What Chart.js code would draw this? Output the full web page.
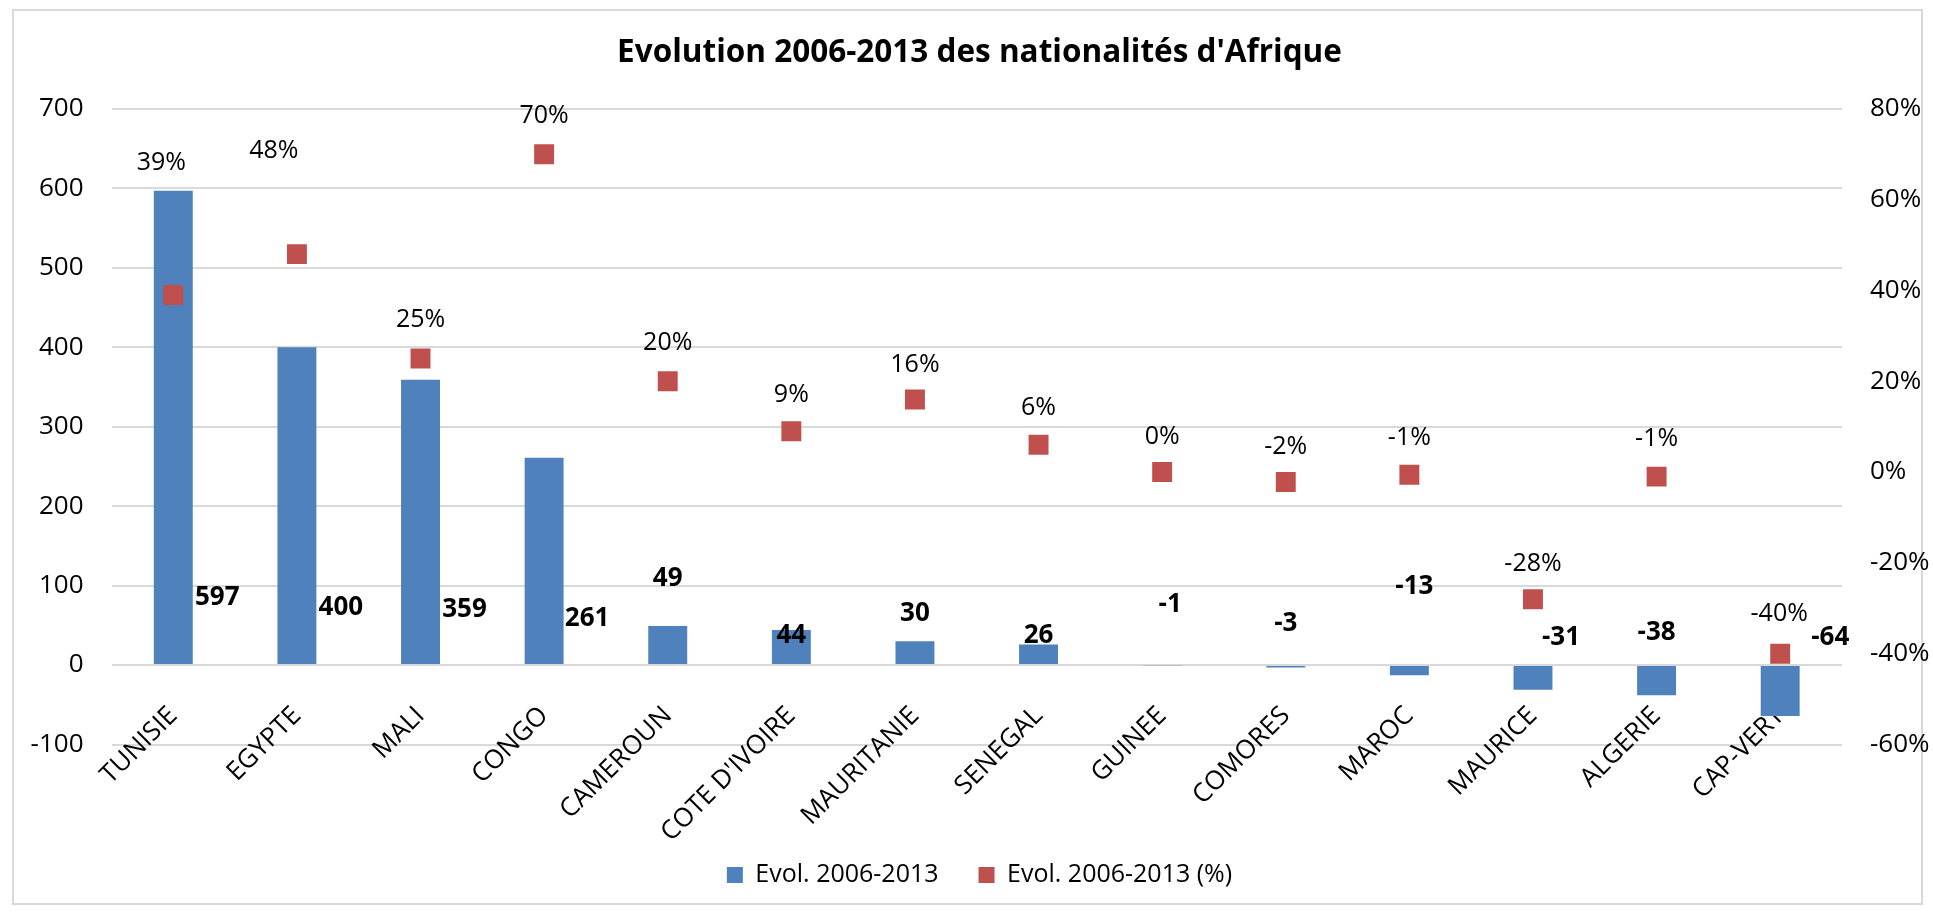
<!DOCTYPE html>
<html>
<head>
<meta charset="utf-8">
<script src="https://cdn.jsdelivr.net/npm/chart.js@4.4.0/dist/chart.umd.min.js"></script>
<style>
    html, body { margin: 0; padding: 0; background: #fff; overflow: hidden; }
</style>
</head>
<body>
<canvas id="myChart" width="1933" height="912"></canvas>
<script>
// Data
const countries = ['TUNISIE', 'EGYPTE', 'MALI', 'CONGO', 'CAMEROUN', "COTE D'IVOIRE", 'MAURITANIE',
    'SENEGAL', 'GUINEE', 'COMORES', 'MAROC', 'MAURICE', 'ALGERIE', 'CAP-VERT'];
const evolCount = [597, 400, 359, 261, 49, 44, 30, 26, -1, -3, -13, -31, -38, -64];
const evolPct = [39, 48, 25, 70, 20, 9, 16, 6, 0, -2.2, -0.6, -28, -1, -40];

const seriesNames = ['Evol. 2006-2013', 'Evol. 2006-2013 (%)'];
const leftAxis = { min: -100, max: 700, step: 100 };
const rightAxis = { min: -60, max: 80, step: 20 };

const FONT = "'Open Sans', 'Liberation Sans', sans-serif";
const BLUE = '#4F81BD';
const RED = '#C0504D';

// Excel had the value labels dragged around by hand; keep that layout here
// bar labels: [x shift in px from bar centre, height on the left axis]
const barLabelLayout = [[44, 85], [44, 72], [44, 69.5], [43, 58], [0, 108.5], [0, 37], [0, 64.5],
    [0, 37], [8, 76], [0, 52], [5, 98.5], [28, 34], [0, 40.5], [50, 34]];
// percent labels: x shift, lift above the marker (px)
const pctLabelLayout = [[-12, 132], [-23, 103], [0, 39], [0, 38], [0, 38], [0, 36], [0, 35],
    [0, 37], [0, 35], [0, 35], [0, 37], [0, 35], [0, 38], [-1, 40]];

const frame = {
    id: 'frame',
    beforeDraw(chart) {
        const ctx = chart.ctx;
        ctx.save();
        ctx.fillStyle = '#fff';
        ctx.fillRect(0, 0, chart.width, chart.height);
        ctx.strokeStyle = '#D9D9D9';
        ctx.lineWidth = 2;
        ctx.strokeRect(13, 10, chart.width - 24, chart.height - 18);
        ctx.restore();
    }
};

const valueLabels = {
    id: 'valueLabels',
    afterDatasetsDraw(chart) {
        const ctx = chart.ctx;
        const yScale = chart.scales.y;
        ctx.save();
        ctx.textAlign = 'center';
        ctx.textBaseline = 'middle';
        ctx.fillStyle = '#000';

        // bar values
        ctx.font = 'bold 26px ' + FONT;
        chart.getDatasetMeta(0).data.forEach((bar, i) => {
            const [dx, at] = barLabelLayout[i];
            ctx.fillText(String(evolCount[i]), bar.x + dx, yScale.getPixelForValue(at));
        });

        // percentages
        ctx.font = '25px ' + FONT;
        chart.getDatasetMeta(1).data.forEach((pt, i) => {
            const [dx, lift] = pctLabelLayout[i];
            ctx.fillText(Math.round(evolPct[i]) + '%', pt.x + dx, pt.y - lift);
        });
        ctx.restore();
    }
};

const ctx = document.getElementById('myChart').getContext('2d');
const chart = new Chart(ctx, {
    data: {
        labels: countries,
        datasets: [{
            type: 'bar',
            label: seriesNames[0],
            data: evolCount,
            backgroundColor: BLUE,
            borderWidth: 0,
            barPercentage: 0.315,
            categoryPercentage: 1,
            yAxisID: 'y',
            order: 2
        }, {
            type: 'line',
            label: seriesNames[1],
            data: evolPct,
            showLine: false,
            backgroundColor: RED,
            borderColor: RED,
            borderWidth: 0,
            pointStyle: 'rect',
            pointRadius: 14.1,
            pointHoverRadius: 14.1,
            pointBackgroundColor: RED,
            pointBorderWidth: 0,
            yAxisID: 'y1',
            order: 1
        }]
    },
    options: {
        responsive: false,
        animation: false,
        layout: {
            padding: { left: 26, right: 0, top: 34, bottom: 14.5 }
        },
        scales: {
            x: {
                type: 'category',
                offset: true,
                grid: { display: false },
                border: { display: false },
                ticks: {
                    color: '#000',
                    font: { family: FONT, size: 26 },
                    minRotation: 45,
                    maxRotation: 45,
                    autoSkip: false,
                    padding: -52
                },
                afterFit: (scale) => {
                    scale.height = 78;
                    // labels hang up over the plot like Excel's, so no clipping to the axis box
                    scale._computeLabelArea = () => undefined;
                }
            },
            y: {
                position: 'left',
                min: leftAxis.min,
                max: leftAxis.max,
                ticks: {
                    stepSize: leftAxis.step,
                    color: '#000',
                    font: { family: FONT, size: 26 },
                    padding: 28
                },
                grid: { color: '#D9D9D9', lineWidth: 2, drawTicks: false },
                border: { display: false },
                afterFit: (scale) => { scale.width = 85.5; }
            },
            y1: {
                position: 'right',
                min: rightAxis.min,
                max: rightAxis.max,
                ticks: {
                    stepSize: rightAxis.step,
                    color: '#000',
                    font: { family: FONT, size: 26 },
                    padding: 28,
                    callback: (v) => v + '%'
                },
                grid: { display: false, drawTicks: false },
                border: { display: false },
                afterFit: (scale) => { scale.width = 91; }
            }
        },
        plugins: {
            title: {
                display: true,
                text: "Evolution 2006-2013 des nationalités d'Afrique",
                color: '#000',
                font: { family: FONT, size: 31.5, weight: 'bold' },
                padding: { top: 0, bottom: 37 }
            },
            legend: {
                position: 'bottom',
                labels: {
                    boxWidth: 16,
                    boxHeight: 16,
                    padding: 40,
                    color: '#000',
                    font: { family: FONT, size: 25 },
                    sort: (a, b) => a.datasetIndex - b.datasetIndex
                }
            },
            tooltip: { enabled: false }
        }
    },
    plugins: [frame, valueLabels]
});
</script>
</body>
</html>
